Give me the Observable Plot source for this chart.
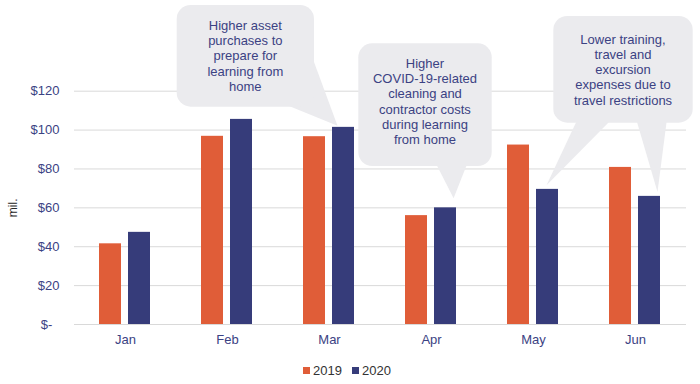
<!DOCTYPE html>
<html><head><meta charset="utf-8">
<script src="https://cdn.jsdelivr.net/npm/d3@7"></script>
<script src="https://cdn.jsdelivr.net/npm/@observablehq/plot@0.6"></script>
<style>
html,body{margin:0;padding:0;background:#fff;}
#chart{width:700px;}
#legend .lg-swatches{justify-content:center;font-family:"Liberation Sans",Arial,sans-serif;font-size:13px;color:#333;min-height:24px;margin:0;padding-right:6px;}
#legend .lg-swatch{margin-right:10px;}
#legend .lg-swatch:last-child{margin-right:0;}
#legend .lg-swatch > svg{margin-right:3px;}
</style></head><body>
<div id="chart"></div>
<div id="legend"></div>
<script>
// ---- data ----
const months = ["Jan","Feb","Mar","Apr","May","Jun"];
const years = ["2019","2020"];
const values2019 = [41.5, 96.8, 96.6, 56.0, 92.3, 80.8];
const values2020 = [47.4, 105.5, 101.4, 60.0, 69.5, 65.9];
const yTicks = [0,20,40,60,80,100,120];
const calloutTexts = [
  ["Higher asset","purchases to","prepare for","learning from","home"],
  ["Higher","COVID-19-related","cleaning and","contractor costs","during learning","from home"],
  ["Lower training,","travel and","excursion","expenses due to","travel restrictions"]
];
const calloutTargets = [
  [["Mar","2020"]],
  [["Apr","2020"]],
  [["May","2020"],["Jun","2020"]]
];

// ---- styles / layout ----
const colors = ["#E05D38","#363C7A"];
const navy = "#3b4283";
const font = '"Liberation Sans", Arial, sans-serif';
const calloutLayout = [
  {box:[176.7,5,314,106.7], firstLine:25, lineH:15.4,
   tails:[{base:[[289,106],[314,62]], dx:-5.5, dy:1}]},
  {box:[358.3,43.3,491.7,166], firstLine:63.3, lineH:15.3,
   tails:[{base:[[436.7,165],[466.7,165]], dx:8.6, dy:9}]},
  {box:[553.3,16,692.7,122.7], firstLine:39, lineH:15.25,
   tails:[{base:[[576.7,121],[610,121]], dx:-0.5, dy:3.7},
          {base:[[636.7,121],[666.7,121]], dx:8.5, dy:4}]}
];

const data = months.flatMap((m,i)=>[
  {month:m, year:years[0], value:values2019[i]},
  {month:m, year:years[1], value:values2020[i]}
]);
const valueOf = (m,yr) => (yr===years[0]?values2019:values2020)[months.indexOf(m)];

const chart = Plot.plot({
  width:700, height:358,
  marginLeft:72, marginRight:12, marginTop:90.7, marginBottom:34,
  style:{fontFamily:font, fontSize:"13px", background:"#fff", overflow:"visible"},
  fx:{domain:months, padding:0, label:null},
  x:{domain:years, paddingInner:0.233, paddingOuter:0.828, axis:null},
  y:{domain:[0,120]},
  color:{domain:years, range:colors},
  marks:[
    Plot.gridY(yTicks, {stroke:"#d9d9d9", strokeOpacity:1, strokeWidth:1}),
    Plot.barY(data, {fx:"month", x:"year", y:"value", fill:"year"}),
    Plot.axisY({ticks:yTicks, tickSize:0, tickPadding:15,
      tickFormat: d => d===0 ? "$-\u2007" : "$"+d, fill:navy,
      label:"mil.", labelAnchor:"center", labelArrow:"none", labelOffset:66}),
    Plot.axisFx({anchor:"bottom", tickSize:0, tickPadding:10, fill:navy, label:null})
  ]
});
document.getElementById("chart").append(chart);

const svg = d3.select(chart);
svg.selectAll("text").filter(function(){return this.textContent==="mil.";}).style("fill","#262626").style("font-size","12px");

const fx = chart.scale("fx"), xs = chart.scale("x"), ys = chart.scale("y");
const xOffset = Math.min(...xs.range);
const bubbleFill = "#EBEBEE";
const g = svg.append("g").attr("class","callouts");
calloutLayout.forEach((L,i)=>{
  const [x1,y1,x2,y2] = L.box;
  L.tails.forEach((t,j)=>{
    const [m,yr] = calloutTargets[i][j];
    const tx = fx.apply(m) + (xs.apply(yr) - xOffset) + xs.bandwidth/2 + t.dx;
    const ty = ys.apply(valueOf(m,yr)) - t.dy;
    g.append("path")
      .attr("d", `M${t.base[0][0]},${t.base[0][1]}L${tx},${ty}L${t.base[1][0]},${t.base[1][1]}Z`)
      .attr("fill", bubbleFill);
  });
  g.append("rect").attr("x",x1).attr("y",y1).attr("width",x2-x1).attr("height",y2-y1)
    .attr("rx",14).attr("fill",bubbleFill);
  const txt = g.append("text").attr("text-anchor","middle").attr("fill",navy)
    .style("font-family",font).style("font-size","13px");
  calloutTexts[i].forEach((line,k)=>{
    txt.append("tspan").attr("x",(x1+x2)/2).attr("y",L.firstLine + k*L.lineH)
      .attr("dy","0.35em").text(line);
  });
});

const legend = Plot.legend({color:{domain:years, range:colors}, legend:"swatches", className:"lg", swatchSize:7});
document.getElementById("legend").append(legend);
</script>
</body></html>
